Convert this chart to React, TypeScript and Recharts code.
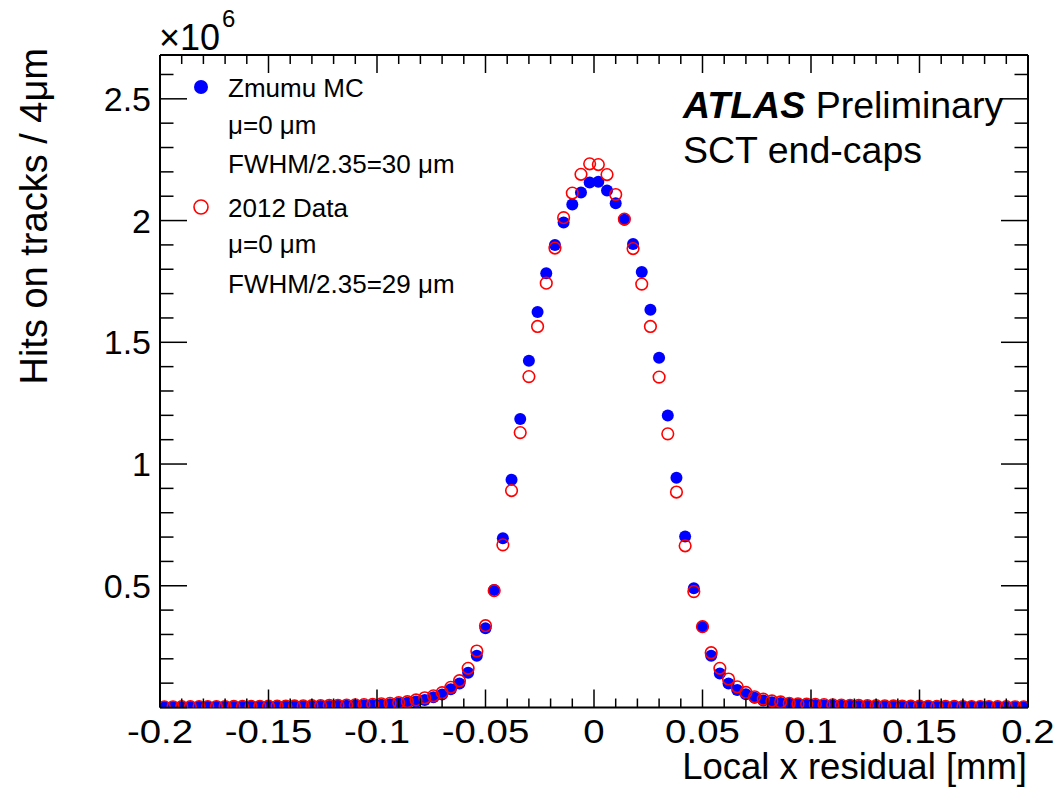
import React from 'react';
import { ScatterChart, Scatter, XAxis, YAxis } from 'recharts';

// Bin centres of the 4 µm bins (mm)
const binCenters = [
  -0.198, -0.194, -0.19, -0.186, -0.182, -0.178, -0.174, -0.17, -0.166, -0.162,
  -0.158, -0.154, -0.15, -0.146, -0.142, -0.138, -0.134, -0.13, -0.126, -0.122,
  -0.118, -0.114, -0.11, -0.106, -0.102, -0.098, -0.094, -0.09, -0.086, -0.082,
  -0.078, -0.074, -0.07, -0.066, -0.062, -0.058, -0.054, -0.05, -0.046, -0.042,
  -0.038, -0.034, -0.03, -0.026, -0.022, -0.018, -0.014, -0.01, -0.006, -0.002,
  0.002, 0.006, 0.01, 0.014, 0.018, 0.022, 0.026, 0.03, 0.034, 0.038,
  0.042, 0.046, 0.05, 0.054, 0.058, 0.062, 0.066, 0.07, 0.074, 0.078,
  0.082, 0.086, 0.09, 0.094, 0.098, 0.102, 0.106, 0.11, 0.114, 0.118,
  0.122, 0.126, 0.13, 0.134, 0.138, 0.142, 0.146, 0.15, 0.154, 0.158,
  0.162, 0.166, 0.17, 0.174, 0.178, 0.182, 0.186, 0.19, 0.194, 0.198,
];

// Zmumu MC hits per bin
const mcHits = [
  2300, 2400, 2500, 2600, 2700, 2800, 2900, 3000, 3200, 3400,
  3600, 3800, 4000, 4200, 4500, 4800, 5000, 5500, 6000, 6500,
  7000, 7500, 8000, 9000, 10000, 11000, 13000, 16000, 19000, 25000,
  31000, 42000, 53000, 75000, 99000, 143000, 213000, 325000, 483000, 695000,
  935000, 1185000, 1424000, 1624000, 1784000, 1900000, 1992000, 2066000, 2115000, 2156000,
  2159000, 2123000, 2071000, 2003000, 1904000, 1789000, 1634000, 1437000, 1199000, 944000,
  702000, 490000, 332000, 213000, 140000, 99000, 72000, 54000, 40000, 29000,
  22000, 18000, 15000, 13000, 11000, 10000, 9000, 8000, 7500, 7000,
  6500, 6000, 5500, 5000, 4700, 4400, 4100, 3900, 3700, 3500,
  3300, 3100, 3000, 2900, 2800, 2700, 2600, 2500, 2400, 2300,
];

// 2012 Data hits per bin
const dataHits = [
  2900, 3000, 3200, 3400, 3600, 3800, 4000, 4200, 4400, 4600,
  4800, 5100, 5400, 5700, 6000, 6500, 7000, 7500, 8000, 8500,
  9000, 10000, 11000, 12000, 13000, 15000, 17000, 20000, 24000, 31000,
  40000, 48000, 61000, 83000, 110000, 161000, 232000, 336000, 480000, 668000,
  891000, 1129000, 1359000, 1565000, 1743000, 1887000, 2012000, 2113000, 2190000, 2233000,
  2230000, 2189000, 2107000, 2006000, 1885000, 1739000, 1565000, 1357000, 1124000, 885000,
  664000, 476000, 332000, 225000, 161000, 117000, 85000, 62000, 44000, 34000,
  27000, 23000, 17000, 15000, 14000, 13000, 12000, 11000, 10000, 9000,
  8500, 8000, 7500, 7000, 6500, 6000, 5700, 5400, 5100, 4800,
  4600, 4400, 4200, 4000, 3800, 3600, 3400, 3200, 3000, 2900,
];

const xTicks = [
  -0.2, -0.19, -0.18, -0.17, -0.16, -0.15, -0.14, -0.13, -0.12, -0.11,
  -0.1, -0.09, -0.08, -0.07, -0.06, -0.05, -0.04, -0.03, -0.02, -0.01,
  0, 0.01, 0.02, 0.03, 0.04, 0.05, 0.06, 0.07, 0.08, 0.09,
  0.1, 0.11, 0.12, 0.13, 0.14, 0.15, 0.16, 0.17, 0.18, 0.19, 0.2,
];
const yTicks = [
  0, 100000, 200000, 300000, 400000, 500000, 600000, 700000, 800000, 900000,
  1000000, 1100000, 1200000, 1300000, 1400000, 1500000, 1600000, 1700000, 1800000, 1900000,
  2000000, 2100000, 2200000, 2300000, 2400000, 2500000, 2600000,
];
const xDomain = [-0.2, 0.2];
const yDomain = [0, 2680000];

const seriesNames = ['Zmumu MC', '2012 Data'];
const legendLines1 = ['μ=0 μm', 'FWHM/2.35=30 μm'];
const legendLines2 = ['μ=0 μm', 'FWHM/2.35=29 μm'];

const FONT = '"Liberation Sans", Arial, Helvetica, sans-serif';
const TICK_FS = 34;

const mcPoints = binCenters.map((x, i) => ({ x, y: mcHits[i] }));
const dataPoints = binCenters.map((x, i) => ({ x, y: dataHits[i] }));

const isMajorX = (v: number) => Math.round(v * 100) % 5 === 0;
const isMajorY = (v: number) => Math.round(v / 100000) % 5 === 0;
const fmtX = (v: number) => String(Number(v.toFixed(2)));
const fmtY = (v: number) => String(Number((v / 1e6).toFixed(1)));

const BottomTick = (props: any) => {
  const { x, y, payload } = props;
  const v = payload.value;
  const major = isMajorX(v);
  return (
    <g>
      <line x1={x} x2={x} y1={y} y2={y - (major ? 18 : 9)} stroke="#000" strokeWidth={1.5} />
      {major && (
        <text
          transform={`translate(${x},${y + 35.5}) scale(1.13,1)`}
          textAnchor="middle"
          fontSize={TICK_FS}
          fontFamily={FONT}
          fill="#000"
        >
          {fmtX(v)}
        </text>
      )}
    </g>
  );
};
const TopTick = (props: any) => {
  const { x, y, payload } = props;
  const major = isMajorX(payload.value);
  return <line x1={x} x2={x} y1={y} y2={y + (major ? 18 : 9)} stroke="#000" strokeWidth={1.5} />;
};
const LeftTick = (props: any) => {
  const { x, y, payload } = props;
  const v = payload.value;
  const major = isMajorY(v);
  return (
    <g>
      <line x1={x} x2={x + (major ? 27 : 13.5)} y1={y} y2={y} stroke="#000" strokeWidth={1.5} />
      {major && v > 0 && (
        <text x={x - 9} y={y + 12} textAnchor="end" fontSize={TICK_FS} fontFamily={FONT} fill="#000">
          {fmtY(v)}
        </text>
      )}
    </g>
  );
};
const RightTick = (props: any) => {
  const { x, y, payload } = props;
  const major = isMajorY(payload.value);
  return <line x1={x} x2={x - (major ? 27 : 13.5)} y1={y} y2={y} stroke="#000" strokeWidth={1.5} />;
};

const mcShape = (p: any) => <circle cx={p.cx} cy={p.cy} r={6} fill="#0000ff" />;
const dataShape = (p: any) => (
  <circle cx={p.cx} cy={p.cy} r={5.8} fill="none" stroke="#ff0000" strokeWidth={1.6} />
);

export default function App() {
  const axisLine = { stroke: '#000', strokeWidth: 2 };
  return (
    <div style={{ position: 'absolute', left: 0, top: 0, width: 1056, height: 787, background: '#fff' }}>
      <ScatterChart
        width={1056}
        height={787}
        margin={{ top: 54, right: 27, bottom: 78.5, left: 159 }}
      >
        <XAxis
          xAxisId="bottom"
          type="number"
          dataKey="x"
          domain={xDomain}
          ticks={xTicks}
          interval={0}
          allowDataOverflow
          height={1}
          tickSize={0}
          tickMargin={0}
          tickLine={false}
          axisLine={axisLine}
          tick={<BottomTick />}
          orientation="bottom"
        />
        <XAxis
          xAxisId="top"
          type="number"
          dataKey="x"
          domain={xDomain}
          ticks={xTicks}
          interval={0}
          allowDataOverflow
          height={1}
          tickSize={0}
          tickMargin={0}
          tickLine={false}
          axisLine={axisLine}
          tick={<TopTick />}
          orientation="top"
        />
        <YAxis
          yAxisId="left"
          type="number"
          dataKey="y"
          domain={yDomain}
          ticks={yTicks}
          interval={0}
          allowDataOverflow
          width={1}
          tickSize={0}
          tickMargin={0}
          tickLine={false}
          axisLine={axisLine}
          tick={<LeftTick />}
          orientation="left"
        />
        <YAxis
          yAxisId="right"
          type="number"
          dataKey="y"
          domain={yDomain}
          ticks={yTicks}
          interval={0}
          allowDataOverflow
          width={1}
          tickSize={0}
          tickMargin={0}
          tickLine={false}
          axisLine={axisLine}
          tick={<RightTick />}
          orientation="right"
        />
        <Scatter
          name={seriesNames[0]}
          data={mcPoints}
          xAxisId="bottom"
          yAxisId="left"
          shape={mcShape}
          isAnimationActive={false}
        />
        <Scatter
          name={seriesNames[1]}
          data={dataPoints}
          xAxisId="bottom"
          yAxisId="left"
          shape={dataShape}
          isAnimationActive={false}
        />
      </ScatterChart>
      <svg
        width={1056}
        height={787}
        style={{ position: 'absolute', left: 0, top: 0, pointerEvents: 'none' }}
        fontFamily={FONT}
      >
        {/* exponent */}
        <text x={159} y={50} fontSize={36} fill="#000">×10</text>
        <text x={222} y={27} fontSize={24} fill="#000">6</text>
        {/* axis titles */}
        <text transform="translate(47,48) rotate(-90)" textAnchor="end" fontSize={38} fill="#000">
          Hits on tracks / 4μm
        </text>
        <text x={1027} y={779} textAnchor="end" fontSize={36.5} fill="#000">
          Local x residual [mm]
        </text>
        {/* ATLAS label */}
        <text x={683} y={118} fontSize={37.5} fill="#000">
          <tspan fontWeight="bold" fontStyle="italic">ATLAS</tspan>
          <tspan> Preliminary</tspan>
        </text>
        <text x={683} y={163} fontSize={37.5} fill="#000">SCT end-caps</text>
        {/* legend */}
        <circle cx={201} cy={87} r={7} fill="#0000ff" />
        <text x={228} y={97} fontSize={26} fill="#000">{seriesNames[0]}</text>
        <text x={228} y={134} fontSize={26} fill="#000">{legendLines1[0]}</text>
        <text x={228} y={173} fontSize={26} fill="#000">{legendLines1[1]}</text>
        <circle cx={201} cy={207} r={7} fill="none" stroke="#ff0000" strokeWidth={1.6} />
        <text x={228} y={217} fontSize={26} fill="#000">{seriesNames[1]}</text>
        <text x={228} y={253} fontSize={26} fill="#000">{legendLines2[0]}</text>
        <text x={228} y={293} fontSize={26} fill="#000">{legendLines2[1]}</text>
      </svg>
    </div>
  );
}
